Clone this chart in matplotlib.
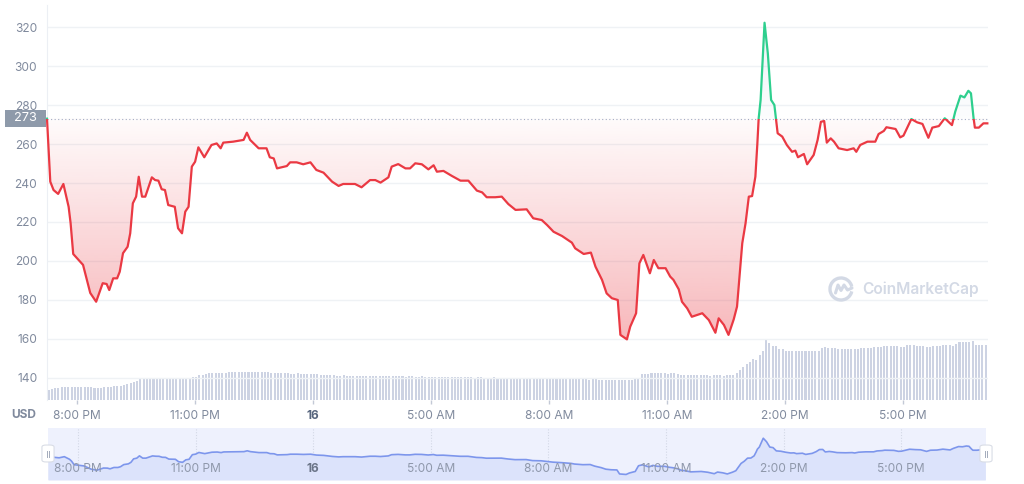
import numpy as np
import matplotlib
matplotlib.use("Agg")
import matplotlib.pyplot as plt
from matplotlib.path import Path
from matplotlib.patches import Rectangle, FancyBboxPatch, Arc
from matplotlib.lines import Line2D
import matplotlib.transforms as mtransforms

plt.rcParams['font.family'] = ['Inter', 'DejaVu Sans']

# ---------------- data ----------------
START_HOUR = 19 + 14 / 60          # series starts 19:14 on the 15th
SPAN_MIN = 1436                    # minutes shown

minutes = [0, 5, 10, 17, 25, 33, 36, 40, 55, 66, 75, 85, 91, 95, 101, 107, 111, 116, 123, 127,
           131, 136, 140, 145, 150, 160, 165, 170, 175, 180, 185, 195, 200, 206, 211, 216, 221, 226, 231, 240,
           251, 259, 265, 269, 284, 300, 305, 310, 323, 335, 340, 346, 351, 366, 371, 381, 391, 402, 411, 422,
           435, 445, 452, 470, 480, 493, 501, 509, 521, 526, 536, 547, 554, 562, 572, 582, 590, 595, 605, 618,
           631, 643, 656, 664, 671, 684, 694, 704, 715, 732, 742, 755, 763, 773, 786, 801, 806, 819, 830, 837,
           847, 854, 862, 871, 875, 885, 890, 899, 904, 910, 920, 926, 933, 944, 951, 956, 964, 969, 977, 984,
           1000, 1010, 1020, 1025, 1033, 1040, 1048, 1053, 1061, 1066, 1071, 1076, 1081, 1084, 1086, 1089, 1095, 1100, 1105, 1110,
           1115, 1122, 1129, 1137, 1142, 1146, 1155, 1160, 1170, 1176, 1181, 1186, 1190, 1196, 1201, 1208, 1221, 1231, 1235, 1241,
           1252, 1264, 1269, 1277, 1281, 1295, 1302, 1307, 1319, 1328, 1336, 1345, 1351, 1361, 1370, 1381, 1386, 1394, 1400, 1406,
           1410, 1414, 1416, 1422, 1429, 1435]

price = [273, 240.7, 236.4, 234.4, 239.5, 227.8, 219.5, 203.6, 198, 183.6, 179.1, 188.6, 188.2, 185.1, 191.1, 191.1, 194.5, 204, 207.3, 214.2,
         229.6, 233, 243.2, 233, 233, 242.9, 241.5, 241.2, 236.8, 236.4, 228.7, 227.8, 216.8, 214.2, 225.3, 227.8, 248.4, 250.9, 258.3, 253.2,
         259.5, 260.3, 257.8, 260.7, 261.2, 262.1, 265.8, 262.1, 257.8, 257.8, 253.2, 252.6, 247.5, 248.7, 250.6, 250.6, 249.6, 250.6, 246.7, 245.3,
         240.7, 238.5, 239.5, 239.5, 237.8, 241.5, 241.5, 240.2, 242.9, 248.4, 249.7, 247.5, 247.5, 250.1, 249.6, 247, 249.1, 245.8, 246.2, 243.6,
         241.2, 241.2, 236.1, 235.2, 232.7, 232.7, 233, 229.2, 226.2, 226.5, 221.9, 221, 218.5, 215, 212.8, 209.4, 206.5, 203.6, 204.3, 197.1,
         190.3, 183.4, 180.9, 180, 162.1, 159.8, 166.3, 173.2, 198.8, 203.1, 193.7, 200.5, 196.3, 196.3, 192, 190.3, 185.5, 179.1, 175.7, 171.4,
         173.2, 169.7, 163.2, 170.6, 167.2, 162.1, 170.1, 176.6, 209.1, 219.3, 233, 233.3, 243.2, 260, 273, 282.6, 322.2, 306.5, 282.6, 280,
         265.5, 263.8, 259.5, 256, 256.6, 253.2, 254.9, 249.6, 254.4, 262.1, 271.4, 271.8, 260.7, 262.9, 261.2, 257.8, 256.9, 257.8, 256, 259.5,
         261.2, 261.2, 265.1, 266.7, 268.6, 267.7, 263.4, 264.3, 272.8, 271.1, 270.3, 263.2, 268.4, 269.2, 273.2, 269.7, 276.6, 284.8, 283.9, 287.3,
         286, 273.2, 268.4, 268.4, 270.6, 270.6]

# 5-minute volume bars (millions USD), one row per hour
volume = [
    10.5, 11, 12, 12, 13, 13, 13, 13, 13, 13, 13, 13,
    13, 13, 12, 12, 12, 13, 13, 13, 14, 14, 14.5, 15.5,
    16, 17, 18, 19, 20.7, 20.7, 20.7, 20.7, 21.7, 21.7, 21.7, 21.7,
    21.7, 20.7, 20.7, 20.7, 20.7, 20.7, 21.7, 21.7, 23, 23, 25.5, 25.5,
    26, 27, 27, 27, 27, 27, 27, 27.7, 27.7, 27.7, 28, 28,
    28, 28, 28, 28, 28, 28, 28, 28, 27.3, 27.3, 27.3, 27.3,
    27, 27, 26.5, 26.5, 27, 26.5, 26, 26, 26.5, 26, 26, 25.5,
    25.5, 25, 25, 25, 24.5, 24.5, 25, 24.5, 24.5, 24.5, 24, 24.5,
    24.5, 24.5, 24, 24, 24.5, 24, 24, 24, 24, 24.5, 24, 24,
    24, 23.5, 24, 24, 23.5, 23.5, 24, 23.5, 23.5, 23.5, 23.5, 23,
    23.5, 23, 23.5, 23, 23, 23, 23.5, 23, 23, 23, 22.5, 23,
    23, 22.5, 22.5, 22.5, 23, 22.5, 22.5, 22.5, 22, 22.5, 22, 22,
    22, 22, 22, 21.5, 22, 22, 21.5, 21.5, 21.5, 21.5, 21, 21.5,
    21.5, 21, 21, 21, 21, 21.5, 21, 21, 21, 20.5, 21, 21,
    20.5, 20.5, 20, 20.5, 20.5, 20, 20.5, 20.5, 20, 20.5, 20.5, 21,
    22, 25.7, 25.7, 25.7, 26.7, 26.7, 26.7, 26.7, 26.7, 26, 26.7, 26.7,
    26, 25, 24.7, 24.7, 24.7, 25, 24.7, 24.7, 24.7, 24.7, 24.3, 24.7,
    24.7, 24.7, 24.3, 24.7, 25, 24.7, 27.3, 30, 32.7, 35.7, 38.3, 40.7,
    40, 45, 49.3, 60, 57.3, 54, 54, 50.7, 50.7, 49.3, 49.3, 49.3,
    49.3, 49.3, 49.3, 49.3, 49.3, 49.5, 49.5, 49.5, 51.7, 53.3, 52.3, 51.7,
    51.7, 51, 51, 51, 51, 51, 51, 51, 51.7, 51.7, 51.7, 51.7,
    52.7, 52.7, 52.7, 53.7, 53.7, 53.7, 53.7, 53.7, 52.7, 52.7, 55, 55,
    55, 54, 54, 54, 53.3, 53.3, 54, 54, 54, 55, 55, 55,
    54, 56, 57.7, 57.7, 57.7, 57.7, 59, 55.3, 55.3, 55.3, 55.3, 53.3,
]

baseline = 273
# axis ticks as drawn by the source chart (3-hour spacing)
tick_hours = [20, 23, 26, 29, 32, 35, 38, 41]
tick_labels = ['8:00 PM', '11:00 PM', '16', '5:00 AM', '8:00 AM', '11:00 AM', '2:00 PM', '5:00 PM']
y_ticks = [140, 160, 180, 200, 220, 240, 260, 280, 300, 320]

# ---------------- style ----------------
RED = '#ea3943'
GREEN = '#2ecf8e'
GREY_TXT = '#808a9d'
GRID = '#eff2f5'
FS = 8.6

t = START_HOUR + np.array(minutes) / 60.0
p = np.array(price, dtype=float)
xmin, xmax = START_HOUR, START_HOUR + SPAN_MIN / 60.0
ylo, yhi = 128.7, 331.3

W, H = 1024, 484
fig = plt.figure(figsize=(W / 100, H / 100), dpi=100)
fig.patch.set_facecolor('white')


def rect(x0, y0, x1, y1):
    return [x0 / W, 1 - y1 / H, (x1 - x0) / W, (y1 - y0) / H]


# ---- volume axes (behind) ----
vax = fig.add_axes(rect(47, 5, 988, 400))
vt = START_HOUR + (np.arange(len(volume)) + 0.5) * 5 / 60.0
vax.bar(vt, volume, width=0.62 * 5 / 60.0, color='#cdd3e3', linewidth=0)
vax.set_xlim(xmin, xmax)
vax.set_ylim(0, 395)
vax.axis('off')

# ---- main price axes ----
ax = fig.add_axes(rect(47, 5, 988, 400))
ax.patch.set_alpha(0)
ax.set_xlim(xmin, xmax)
ax.set_ylim(ylo, yhi)
for s in ['top', 'right', 'bottom']:
    ax.spines[s].set_visible(False)
ax.spines['left'].set_color('#eceff4')
ax.spines['left'].set_linewidth(0.8)
ax.set_yticks(y_ticks)
ax.set_yticklabels([str(v) for v in y_ticks])
ax.tick_params(axis='y', length=0, pad=7, labelsize=FS, labelcolor=GREY_TXT)
ax.yaxis.grid(True, color=GRID, linewidth=1)
ax.set_axisbelow(True)
ax.set_xticks(tick_hours)
ax.set_xticklabels(tick_labels)
ax.tick_params(axis='x', length=3, width=1, color='#c3c9d6', pad=4.5, labelsize=FS, labelcolor=GREY_TXT)
for lbl in ax.get_xticklabels():
    if lbl.get_text() == '16':
        lbl.set_fontweight('bold')
        lbl.set_color('#58667e')

# gradient fills
red_poly = ax.fill_between(t, p, baseline, where=p <= baseline, interpolate=True, color='none', linewidth=0)
green_poly = ax.fill_between(t, p, baseline, where=p >= baseline, interpolate=True, color='none', linewidth=0)

n = 256
grad_r = np.zeros((n, 1, 4))
grad_r[..., 0], grad_r[..., 1], grad_r[..., 2] = 234 / 255, 57 / 255, 67 / 255
yy = np.linspace(baseline, ylo, n)
grad_r[:, 0, 3] = np.clip(0.02 + (baseline - yy) / (baseline - 160) * 0.34, 0, 0.4)
im_r = ax.imshow(grad_r, extent=[xmin, xmax, ylo, baseline], origin='upper', aspect='auto', zorder=1,
                 interpolation='bilinear')
im_r.set_clip_path(Path.make_compound_path(*red_poly.get_paths()), transform=ax.transData)

grad_g = np.zeros((n, 1, 4))
grad_g[..., 0], grad_g[..., 1], grad_g[..., 2] = 120 / 255, 160 / 255, 190 / 255
yg = np.linspace(yhi, baseline, n)
grad_g[:, 0, 3] = np.clip(0.02 + (yg - baseline) / (322 - baseline) * 0.12, 0, 0.14)
im_g = ax.imshow(grad_g, extent=[xmin, xmax, baseline, yhi], origin='upper', aspect='auto', zorder=1,
                 interpolation='bilinear')
im_g.set_clip_path(Path.make_compound_path(*green_poly.get_paths()), transform=ax.transData)
ax.set_xlim(xmin, xmax)
ax.set_ylim(ylo, yhi)

# baseline dotted
ax.axhline(baseline, color='#a3acc4', linewidth=0.8, linestyle=(0, (1, 2.2)), zorder=2)

# price line split by baseline
below = Rectangle((xmin - 1, ylo - 50), (xmax - xmin) + 2, baseline - ylo + 50, transform=ax.transData)
above = Rectangle((xmin - 1, baseline), (xmax - xmin) + 2, 200, transform=ax.transData)
lr, = ax.plot(t, p, color=RED, linewidth=1.6, zorder=3, solid_joinstyle='round')
lr.set_clip_path(below)
lg, = ax.plot(t, p, color=GREEN, linewidth=1.6, zorder=3, solid_joinstyle='round')
lg.set_clip_path(above)

# current-value label
fig.add_artist(Rectangle((5 / W, 1 - 127 / H), 41 / W, 17 / H, transform=fig.transFigure,
                         facecolor='#8e9aaa', edgecolor='none', zorder=5))
fig.text(25.5 / W, 1 - 118.5 / H, '273', color='white', fontsize=9.2, ha='center', va='center', zorder=6)

# USD label
fig.text(24 / W, 1 - 415 / H, 'USD', color=GREY_TXT, fontsize=FS, fontweight='bold', ha='center', va='center')

# watermark
wm_col = '#d3d9e5'
fig.text(862 / W, 1 - 289.5 / H, 'CoinMarketCap', color=wm_col, fontsize=11.2, fontweight='semibold',
         ha='left', va='center', zorder=0.5)
fig.add_artist(Arc((841 / W, 1 - 289 / H), 22 / W, 22 / H, theta1=25, theta2=335, transform=fig.transFigure,
                   color=wm_col, linewidth=2.4))
mx = np.array([-5.5, -3, 0, 3, 6.5, 11])
my = np.array([-4, 4, -1.5, 4, -1, 1])
fig.add_artist(Line2D((841 + mx) / W, 1 - (289 - my) / H, transform=fig.transFigure, color=wm_col, linewidth=2.2,
                      solid_joinstyle='round', solid_capstyle='round'))

# ---- navigator ----
nax = fig.add_axes(rect(48, 428, 986, 480))
nax.set_facecolor('#eef1fd')
nax.fill_between(t, p, 135, color='#dce3fb', linewidth=0)
nax.plot(t, p, color='#7d96ec', linewidth=1.2)
nax.set_xlim(xmin, xmax)
nax.set_ylim(135, 368)
for s in nax.spines.values():
    s.set_visible(False)
nax.set_xticks([])
nax.set_yticks([])
ntrans = mtransforms.blended_transform_factory(nax.transData, nax.transAxes)
for h, lab in zip(tick_hours, tick_labels):
    nax.axvline(h, color='#d3d8e6', linewidth=0.8, linestyle=(0, (1, 1.5)), zorder=0.5)
    nax.text(h, 0.21, lab, transform=ntrans, ha='center', va='center', fontsize=FS,
             color='#8f98ab' if lab != '16' else '#6b7588', fontweight='bold' if lab == '16' else 'normal')

# navigator handles
for cx in (48, 986):
    fig.add_artist(FancyBboxPatch(((cx - 4) / W, 1 - 461 / H), 8 / W, 15 / H,
                                  boxstyle='round,pad=0.002,rounding_size=0.004', transform=fig.transFigure,
                                  facecolor='white', edgecolor='#d9dde6', linewidth=0.8, zorder=6))
    for dx in (-1.2, 1.2):
        fig.add_artist(Line2D([(cx + dx) / W] * 2, [1 - 450.5 / H, 1 - 456.5 / H], transform=fig.transFigure,
                              color='#a3abbb', linewidth=0.7, zorder=7))

fig.savefig('out.png', dpi=100)
